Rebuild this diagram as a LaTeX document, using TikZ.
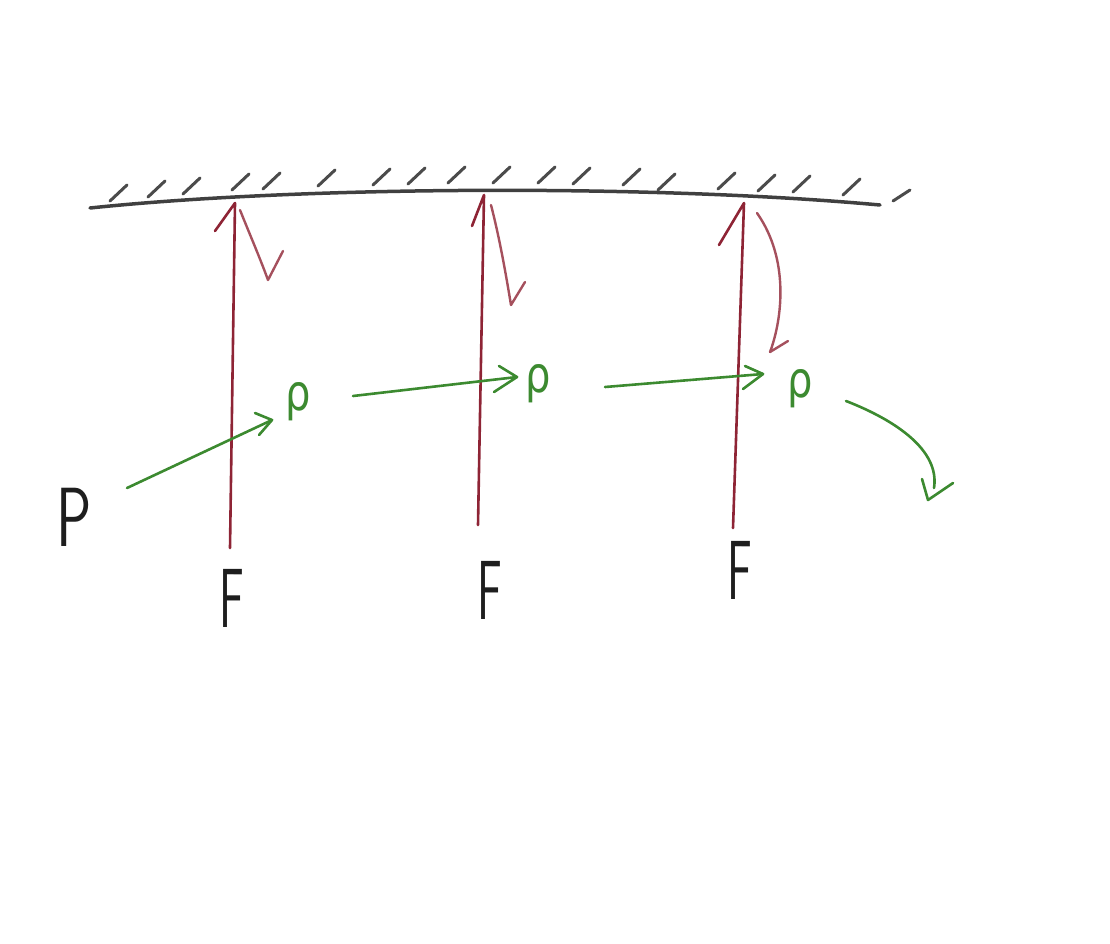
\documentclass[tikz,border=0pt]{standalone}
\usepackage{fontspec}
\newfontfamily\greekfont{DejaVu Sans}
\definecolor{inkred}{HTML}{8E2435}
\definecolor{inkgreen}{HTML}{3C8A30}
\definecolor{inkblack}{HTML}{1E1E1E}
\begin{document}
\begin{tikzpicture}[x=1pt,y=-1pt,
  ceil/.style={draw=inkblack!85, line width=3.5pt, line cap=round},
  hatch/.style={draw=inkblack!80, line width=3pt, line cap=round},
  force/.style={draw=inkred, line width=2.6pt, line cap=round, line join=round},
  forceb/.style={draw=inkred!80, line width=2.4pt, line cap=round, line join=round},
  mom/.style={draw=inkgreen, line width=2.6pt, line cap=round, line join=round},
  lbl/.style={inner sep=0pt, text=inkblack, font=\fontsize{84}{84}\selectfont\sffamily},
  rho/.style={inner sep=0pt, text=inkgreen, font=\fontsize{50}{50}\selectfont\greekfont}]
\useasboundingbox (0,0) rectangle (1110,943);

% ceiling
\coordinate (cL) at (90,208);
\coordinate (cR) at (880,205);
\draw[ceil] (cL) .. controls (300,186) and (650,184) .. (cR);
\foreach \x/\y in {110/201,148/197,183/194,232/190,263/189,318/186,373/185,408/184,448/183,
  493/183,538/183,573/184,623/185,658/190,718/189,758/191,793/192,843/195}
  \draw[hatch] (\x,\y) -- ++(17,-16);
\draw[hatch] (893,201) -- ++(17,-11);

% forces (red)
\coordinate (f1b) at (230,548); \coordinate (f1t) at (235,203);
\coordinate (f2b) at (478,525); \coordinate (f2t) at (484,195);
\coordinate (f3b) at (733,528); \coordinate (f3t) at (744,203);
\draw[force] (f1b) -- (f1t) -- (215,231);
\draw[force] (f2b) -- (f2t) -- (472,226);
\draw[force] (f3b) -- (f3t) -- (719,245);
\draw[forceb] (240,210) .. controls (250,235) and (260,258) .. (268,280) -- (283,251);
\draw[forceb] (491,205) .. controls (500,240) and (506,275) .. (511,305) -- (525,282);
\draw[forceb] (757,213) .. controls (790,260) and (782,320) .. (770,352) -- (788,341);

% labels
\node[lbl] (P) at (74,517) {\scalebox{0.7}[1]{P}};
\node[lbl] (F1) at (232,598) {\scalebox{0.55}[1]{F}};
\node[lbl] (F2) at (490,590) {\scalebox{0.55}[1]{F}};
\node[lbl] (F3) at (740,570) {\scalebox{0.55}[1]{F}};
\node[rho] (r1) at (298,402) {\scalebox{0.8}[1]{ρ}};
\node[rho] (r2) at (538,384) {\scalebox{0.8}[1]{ρ}};
\node[rho] (r3) at (800,389) {\scalebox{0.8}[1]{ρ}};

% moments (green)
\coordinate (g1s) at (127,488); \coordinate (g1t) at (272,420);
\coordinate (g2s) at (353,396); \coordinate (g2t) at (517,377);
\coordinate (g3s) at (605,387); \coordinate (g3t) at (763,374);
\draw[mom] (g1s) -- (g1t);
\draw[mom] (255,413) -- (g1t) -- (259,435);
\draw[mom] (g2s) -- (g2t);
\draw[mom] (499,366) -- (g2t) -- (494,392);
\draw[mom] (g3s) -- (g3t);
\draw[mom] (745,366) -- (g3t) -- (743,389);
\coordinate (g4s) at (846,401); \coordinate (g4t) at (928,500);
\draw[mom] (g4s) .. controls (895,420) and (940,450) .. (934,488);
\draw[mom] (922,479) -- (g4t) -- (953,483);
\end{tikzpicture}
\end{document}
